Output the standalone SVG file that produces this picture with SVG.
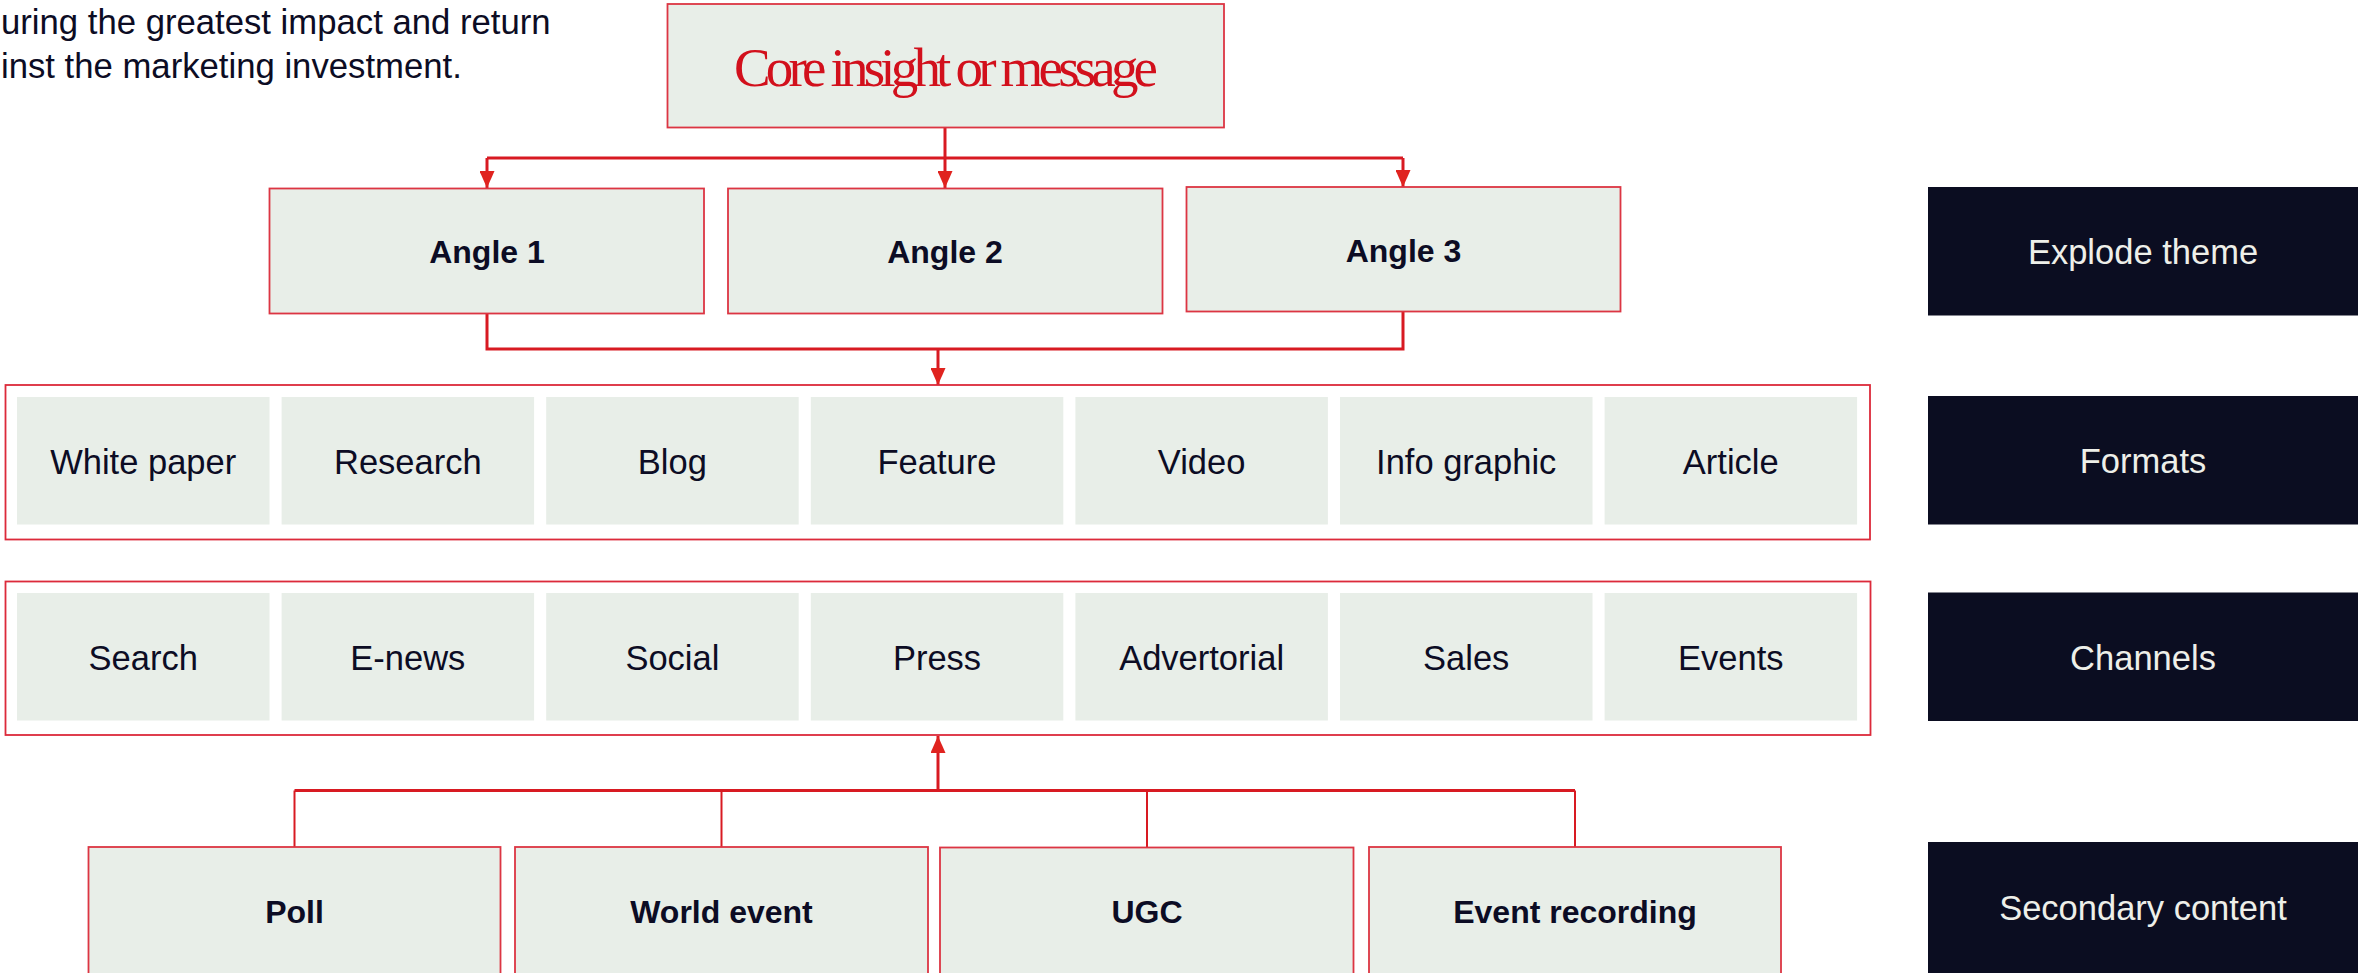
<svg xmlns="http://www.w3.org/2000/svg" width="2358" height="973" viewBox="0 0 2358 973">
  <style>
    .box { fill: #E8EEE8; stroke: #DC3543; stroke-width: 1.8; }
    .cell { fill: #E8EEE8; }
    .frame { fill: #FFFFFF; stroke: #DC2A3A; stroke-width: 1.8; }
    .dark { fill: #0B0D21; }
    .txt { font-family: "Liberation Sans", Arial, sans-serif; font-size: 34.5px; fill: #0C0C24; text-anchor: middle; }
    .bold { font-family: "Liberation Sans", Arial, sans-serif; font-size: 32px; font-weight: bold; fill: #0C0C24; text-anchor: middle; }
    .lab { font-family: "Liberation Sans", Arial, sans-serif; font-size: 34.5px; fill: #EEEFE9; text-anchor: middle; }
    .intro { font-family: "Liberation Sans", Arial, sans-serif; font-size: 34.7px; fill: #0C0C24; }
    .title { font-family: "Liberation Serif", "Times New Roman", serif; font-size: 55px; fill: #D2101C; text-anchor: middle; }
    .wire { fill: none; stroke: #D81A22; stroke-width: 3; }
    .thin { fill: none; stroke: #D81A22; stroke-width: 2; }
  </style>
  <defs>
    <marker id="arrow" viewBox="0 0 17 15" refX="17" refY="7.5" markerWidth="17" markerHeight="15" markerUnits="userSpaceOnUse" orient="auto">
      <path d="M0,0 L17,7.5 L0,15 Z" fill="#E0231F"/>
    </marker>
  </defs>

  <rect x="0" y="0" width="2358" height="973" fill="#FFFFFF"/>

  <!-- intro paragraph, clipped at the left edge -->
  <g id="intro">
    <text class="intro" x="1" y="34">uring the greatest impact and return</text>
    <text class="intro" x="1" y="78">inst the marketing investment.</text>
  </g>

  <!-- connectors -->
  <g id="connectors">
    <path class="wire" d="M945,128 V158"/>
    <path class="wire" d="M487,158 H1403"/>
    <path class="wire" d="M487,158 V188" marker-end="url(#arrow)"/>
    <path class="wire" d="M945,158 V188" marker-end="url(#arrow)"/>
    <path class="wire" d="M1403,158 V187" marker-end="url(#arrow)"/>
    <path class="wire" d="M487,313 V349 H1403 V311.5"/>
    <path class="wire" d="M938,349 V385" marker-end="url(#arrow)"/>
    <path class="wire" d="M294.5,790.5 H1575"/>
    <path class="thin" d="M294.5,790.5 V847"/>
    <path class="thin" d="M721.5,790.5 V847"/>
    <path class="thin" d="M1147,790.5 V847"/>
    <path class="thin" d="M1575,790.5 V847"/>
    <path class="wire" d="M938,790.5 V736" marker-end="url(#arrow)"/>
  </g>

  <!-- core message -->
  <g id="core">
    <rect class="box" x="667.5" y="4" width="556.5" height="123.5"/>
    <text class="title" x="946" y="86" textLength="424" lengthAdjust="spacing">Core insight or message</text>
  </g>

  <!-- angles -->
  <g id="angle1">
    <rect class="box" x="269.5" y="188.5" width="434.5" height="125"/>
    <text class="bold" x="487" y="262.5">Angle 1</text>
  </g>
  <g id="angle2">
    <rect class="box" x="728" y="188.5" width="434.5" height="125"/>
    <text class="bold" x="945" y="262.5">Angle 2</text>
  </g>
  <g id="angle3">
    <rect class="box" x="1186.5" y="187" width="434" height="124.5"/>
    <text class="bold" x="1403.5" y="261.5">Angle 3</text>
  </g>

  <!-- formats row -->
  <g id="formats">
    <rect class="frame" x="5.5" y="385" width="1864.5" height="154.5"/>
    <g id="fmt-white-paper"><rect class="cell" x="17" y="397" width="252.5" height="127.5"/><text class="txt" x="143.2" y="473.5">White paper</text></g>
    <g id="fmt-research"><rect class="cell" x="281.6" y="397" width="252.5" height="127.5"/><text class="txt" x="407.8" y="473.5">Research</text></g>
    <g id="fmt-blog"><rect class="cell" x="546.2" y="397" width="252.5" height="127.5"/><text class="txt" x="672.4" y="473.5">Blog</text></g>
    <g id="fmt-feature"><rect class="cell" x="810.8" y="397" width="252.5" height="127.5"/><text class="txt" x="937" y="473.5">Feature</text></g>
    <g id="fmt-video"><rect class="cell" x="1075.4" y="397" width="252.5" height="127.5"/><text class="txt" x="1201.6" y="473.5">Video</text></g>
    <g id="fmt-infographic"><rect class="cell" x="1340" y="397" width="252.5" height="127.5"/><text class="txt" x="1466.2" y="473.5">Info graphic</text></g>
    <g id="fmt-article"><rect class="cell" x="1604.6" y="397" width="252.5" height="127.5"/><text class="txt" x="1730.8" y="473.5">Article</text></g>
  </g>

  <!-- channels row -->
  <g id="channels">
    <rect class="frame" x="5.5" y="581.5" width="1865" height="153.5"/>
    <g id="ch-search"><rect class="cell" x="17" y="593" width="252.5" height="127.5"/><text class="txt" x="143.2" y="669.5">Search</text></g>
    <g id="ch-enews"><rect class="cell" x="281.6" y="593" width="252.5" height="127.5"/><text class="txt" x="407.8" y="669.5">E-news</text></g>
    <g id="ch-social"><rect class="cell" x="546.2" y="593" width="252.5" height="127.5"/><text class="txt" x="672.4" y="669.5">Social</text></g>
    <g id="ch-press"><rect class="cell" x="810.8" y="593" width="252.5" height="127.5"/><text class="txt" x="937" y="669.5">Press</text></g>
    <g id="ch-advertorial"><rect class="cell" x="1075.4" y="593" width="252.5" height="127.5"/><text class="txt" x="1201.6" y="669.5">Advertorial</text></g>
    <g id="ch-sales"><rect class="cell" x="1340" y="593" width="252.5" height="127.5"/><text class="txt" x="1466.2" y="669.5">Sales</text></g>
    <g id="ch-events"><rect class="cell" x="1604.6" y="593" width="252.5" height="127.5"/><text class="txt" x="1730.8" y="669.5">Events</text></g>
  </g>

  <!-- secondary content sources -->
  <g id="poll">
    <rect class="box" x="88.5" y="847" width="412" height="140"/>
    <text class="bold" x="294.5" y="922.5">Poll</text>
  </g>
  <g id="world-event">
    <rect class="box" x="515" y="847" width="413" height="140"/>
    <text class="bold" x="721.5" y="922.5">World event</text>
  </g>
  <g id="ugc">
    <rect class="box" x="940" y="847.5" width="413.5" height="140"/>
    <text class="bold" x="1147" y="922.5">UGC</text>
  </g>
  <g id="event-recording">
    <rect class="box" x="1369" y="847" width="412" height="140"/>
    <text class="bold" x="1575" y="922.5">Event recording</text>
  </g>

  <!-- stage labels on the right -->
  <g id="label-explode">
    <rect class="dark" x="1928" y="187" width="430" height="128.5"/>
    <text class="lab" x="2143" y="263.5">Explode theme</text>
  </g>
  <g id="label-formats">
    <rect class="dark" x="1928" y="396" width="430" height="128.5"/>
    <text class="lab" x="2143" y="472.5">Formats</text>
  </g>
  <g id="label-channels">
    <rect class="dark" x="1928" y="592.5" width="430" height="128.5"/>
    <text class="lab" x="2143" y="669.5">Channels</text>
  </g>
  <g id="label-secondary">
    <rect class="dark" x="1928" y="842" width="430" height="131"/>
    <text class="lab" x="2143" y="920">Secondary content</text>
  </g>
</svg>
